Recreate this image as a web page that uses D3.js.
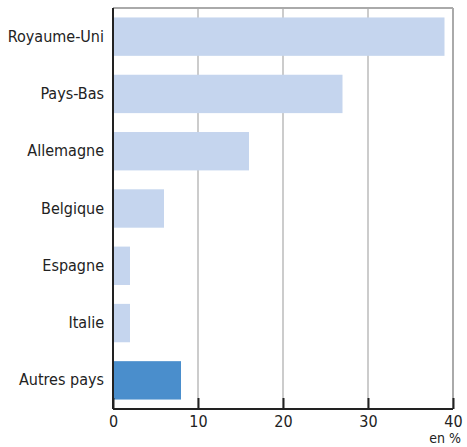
<!DOCTYPE html>
<html>
<head>
<meta charset="utf-8">
<script src="https://cdn.jsdelivr.net/npm/d3@7"></script>
<style>
  body { margin: 0; background: #fff; }
  text { font-family: "Liberation Sans Narrow", "DejaVu Sans Condensed", sans-serif; fill: #222; }
</style>
</head>
<body>
<script>
// pays et parts (en %)
var pays = ["Royaume-Uni", "Pays-Bas", "Allemagne", "Belgique", "Espagne", "Italie", "Autres pays"];
var valeurs = [39, 27, 16, 6, 2, 2, 8];
var ticks = [0, 10, 20, 30, 40];

var width = 467, height = 447;
var margin = {top: 8, right: 14, bottom: 38, left: 113};

var svg = d3.select("body").append("svg")
    .attr("width", width)
    .attr("height", height);

var x = d3.scaleLinear().domain([0, 40]).range([margin.left, width - margin.right]);
var y = d3.scaleBand().domain(pays)
    .range([margin.top, height - margin.bottom])
    .paddingInner(0.33).paddingOuter(0.165);

var data = pays.map((p, i) => ({pays: p, v: valeurs[i]}));

// grille verticale
svg.append("g").selectAll("line")
    .data(ticks.slice(1))
  .enter().append("line")
    .attr("x1", d => x(d)).attr("x2", d => x(d))
    .attr("y1", margin.top).attr("y2", height - margin.bottom)
    .attr("stroke", "#aaa").attr("stroke-width", 1.2);

// bord du haut + droite
svg.append("line")
    .attr("x1", x(0)).attr("x2", x(40))
    .attr("y1", margin.top).attr("y2", margin.top)
    .attr("stroke", "#aaa").attr("stroke-width", 2);
svg.append("line")
    .attr("x1", x(40)).attr("x2", x(40))
    .attr("y1", margin.top).attr("y2", height - margin.bottom)
    .attr("stroke", "#aaa").attr("stroke-width", 2);

// barres
svg.append("g").selectAll("rect")
    .data(data)
  .enter().append("rect")
    .attr("x", x(0))
    .attr("y", d => y(d.pays))
    .attr("width", d => x(d.v) - x(0))
    .attr("height", y.bandwidth())
    .attr("fill", d => d.pays == "Autres pays" ? "#4a8ecc" : "#c5d5ee");

// axe y
var yAxis = svg.append("g")
    .attr("transform", "translate(" + x(0) + ",0)")
    .call(d3.axisLeft(y).tickSize(0).tickPadding(9));
yAxis.select(".domain").remove();
yAxis.selectAll("text").style("font-size", "16px").attr("fill", "#222");
svg.append("line")
    .attr("x1", x(0)).attr("x2", x(0))
    .attr("y1", margin.top).attr("y2", height - margin.bottom)
    .attr("stroke", "#222").attr("stroke-width", 2);

// axe x
var xAxis = svg.append("g")
    .attr("transform", "translate(0," + (height - margin.bottom) + ")")
    .call(d3.axisBottom(x).tickValues(ticks).tickSize(-11).tickPadding(7));
xAxis.select(".domain").attr("stroke", "#222").attr("stroke-width", 2).attr("d", "M" + x(0) + ",0H" + x(40));
xAxis.selectAll(".tick line").attr("stroke", "#222").attr("stroke-width", 2);
xAxis.selectAll("text").style("font-size", "16px").attr("fill", "#222");

svg.append("text")
    .attr("x", 461).attr("y", 443)
    .attr("text-anchor", "end")
    .style("font-size", "14px")
    .text("en %");
</script>
</body>
</html>
